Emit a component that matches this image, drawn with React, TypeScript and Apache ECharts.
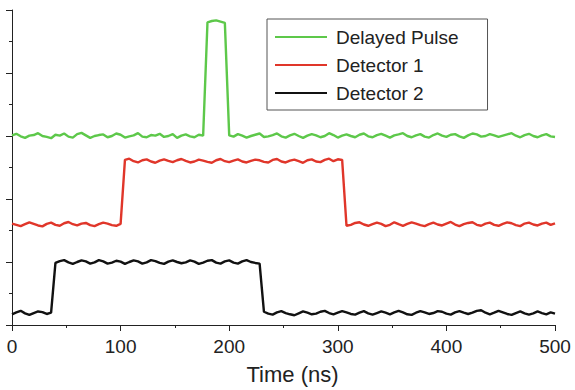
import React, { useEffect, useRef } from "react";
import * as echarts from "echarts";

const timeNs = [
  0, 4, 8, 12, 16, 20, 24, 28, 32, 36,
  40, 44, 48, 52, 56, 60, 64, 68, 72, 76,
  80, 84, 88, 92, 96, 100, 104, 108, 112, 116,
  120, 124, 128, 132, 136, 140, 144, 148, 152, 156,
  160, 164, 168, 172, 176, 180, 184, 188, 192, 196,
  200, 204, 208, 212, 216, 220, 224, 228, 232, 236,
  240, 244, 248, 252, 256, 260, 264, 268, 272, 276,
  280, 284, 288, 292, 296, 300, 304, 308, 312, 316,
  320, 324, 328, 332, 336, 340, 344, 348, 352, 356,
  360, 364, 368, 372, 376, 380, 384, 388, 392, 396,
  400, 404, 408, 412, 416, 420, 424, 428, 432, 436,
  440, 444, 448, 452, 456, 460, 464, 468, 472, 476,
  480, 484, 488, 492, 496, 500,
];

const delayedPulse = [
  60.2, 60.7, 59.9, 59.4, 60.1, 60.3, 60.9, 60.0, 59.7, 59.3,
  60.4, 60.1, 60.8, 59.8, 59.5, 60.6, 61.0, 60.2, 59.4, 60.0,
  60.3, 60.5, 59.6, 60.0, 60.8, 60.4, 59.5, 59.9, 60.2, 60.9,
  59.8, 59.6, 60.3, 60.1, 60.7, 59.7, 60.0, 60.6, 59.4, 60.1,
  60.5, 59.9, 59.6, 60.4, 60.1, 96.1, 96.5, 96.7, 96.3, 95.9,
  60.2, 59.8, 60.6, 60.1, 59.5, 60.0, 60.4, 60.8, 59.7, 59.9,
  60.3, 60.8, 59.9, 59.5, 60.2, 60.7, 60.0, 59.4, 60.1, 60.6,
  60.2, 59.6, 60.0, 60.9, 60.3, 59.5, 60.1, 60.5, 60.0, 59.6,
  60.4, 60.8, 59.9, 59.6, 60.3, 60.7, 60.1, 59.5, 60.2, 60.5,
  60.9, 60.0, 59.6, 60.2, 60.6, 59.8, 59.5, 60.3, 60.8, 60.1,
  59.7, 60.4, 60.6, 59.9, 59.4, 60.2, 60.8, 60.5, 59.8, 60.0,
  60.6, 60.2, 59.7, 60.1, 60.5, 60.9, 60.1, 59.6, 60.3, 60.7,
  60.0, 59.6, 60.2, 60.6, 59.9, 59.7,
];

const detector1 = [
  32.2, 31.8, 31.4, 32.0, 32.6, 32.1, 31.6, 31.3, 32.1, 32.5,
  31.8, 31.5, 32.3, 32.7, 32.0, 31.6, 32.2, 32.4, 31.7, 31.4,
  32.0, 32.5, 32.2, 31.7, 31.5, 32.1, 52.4, 52.8, 52.0, 51.6,
  52.3, 52.6, 51.9, 51.5, 52.2, 52.6, 52.1, 51.7, 52.3, 52.7,
  52.1, 51.6, 51.9, 52.5, 52.2, 51.8, 51.5, 52.3, 52.7, 52.0,
  51.7, 52.2, 52.6, 51.9, 51.6, 52.1, 52.5, 52.3, 51.8, 51.6,
  52.4, 52.7, 51.9, 51.6, 52.2, 52.5, 52.0, 51.5, 52.3, 52.6,
  51.9, 51.7, 52.4, 52.8, 52.0, 52.6, 52.4, 31.5, 31.8, 32.4,
  32.6, 31.9, 31.5, 32.0, 32.5, 32.1, 31.4, 31.8, 32.6, 32.0,
  31.5, 32.1, 32.6, 32.2, 31.7, 31.4, 32.0, 32.5, 31.9, 31.6,
  32.2, 32.7, 31.9, 31.4, 32.0, 32.4, 32.6, 31.8, 31.5, 32.2,
  32.5, 31.8, 31.5, 32.1, 32.6, 32.3, 31.7, 31.4, 32.2, 32.5,
  31.9, 31.6, 32.2, 32.5, 31.8, 32.3,
];

const detector2 = [
  3.4, 4.0, 4.5, 3.7, 3.2, 3.8, 4.3, 4.1, 3.5, 3.9,
  19.7, 20.3, 20.6, 19.9, 19.4, 20.0, 20.5, 20.2, 19.5, 19.9,
  20.6, 20.2, 19.5, 19.8, 20.4, 20.1, 19.4, 20.0, 20.5, 20.2,
  19.5, 19.9, 20.6, 20.3, 19.7, 19.4, 20.1, 20.5, 20.0, 19.6,
  19.9, 20.5, 20.1, 19.4, 19.8, 20.4, 20.6, 19.8, 19.5, 20.2,
  20.5, 19.8, 19.5, 20.2, 20.6, 20.0, 19.7, 19.5, 4.2, 3.6,
  3.3, 4.0, 4.4, 3.8, 3.4, 3.1, 3.7, 4.3, 3.9, 3.4,
  3.6, 4.2, 4.5, 3.8, 3.4, 3.9, 4.4, 4.0, 3.5, 3.3,
  3.9, 4.4, 3.7, 3.3, 3.8, 4.3, 3.9, 3.4, 4.0, 4.5,
  4.0, 3.4, 3.2, 3.9, 4.4, 4.0, 3.5, 3.8, 4.4, 4.2,
  3.6, 3.3, 4.0, 4.4, 3.9, 3.5, 3.9, 4.5, 4.7, 3.9,
  3.4, 3.9, 4.5, 4.0, 3.5, 3.2, 3.8, 4.3, 3.7, 3.3,
  3.7, 4.3, 3.8, 3.4, 4.0, 3.6,
];

const seriesNames = ["Delayed Pulse", "Detector 1", "Detector 2"];
const seriesColors = ["#5dc84a", "#e0362a", "#111111"];
const seriesValues = [delayedPulse, detector1, detector2];

const FONT = "'Liberation Sans', Arial, sans-serif";

export default function App() {
  const ref = useRef<HTMLDivElement>(null);
  useEffect(() => {
    document.body.style.margin = "0";
    if (!ref.current) return;
    const chart = echarts.init(ref.current, null, { renderer: "svg" });
    chart.setOption({
      animation: false,
      backgroundColor: "#ffffff",
      grid: { left: 12, right: 20, top: 10, bottom: 60, containLabel: false },
      legend: {
        orient: "vertical",
        left: 267,
        top: 19,
        padding: [8, 29, 7, 8],
        itemGap: 8,
        itemWidth: 52,
        itemHeight: 2,
        icon: "rect",
        borderColor: "#555555",
        borderWidth: 1,
        backgroundColor: "#ffffff",
        textStyle: {
          fontFamily: FONT,
          fontSize: 19,
          lineHeight: 20,
          color: "#222222",
          padding: [0, 0, 0, 4],
        },
        data: seriesNames,
      },
      xAxis: {
        type: "value",
        min: 0,
        max: 500,
        interval: 100,
        name: "Time (ns)",
        nameLocation: "middle",
        nameGap: 38,
        nameTextStyle: {
          fontFamily: FONT,
          fontSize: 22,
          color: "#222222",
          padding: [0, 0, 0, 18],
        },
        axisLine: { show: true, lineStyle: { color: "#222222", width: 1 } },
        axisTick: { show: true, inside: false, length: 6, lineStyle: { color: "#222222" } },
        minorTick: { show: true, splitNumber: 2, length: 3, lineStyle: { color: "#222222" } },
        axisLabel: { fontFamily: FONT, fontSize: 19, color: "#222222", margin: 12 },
        splitLine: { show: false },
      },
      yAxis: {
        type: "value",
        min: 0,
        max: 100,
        interval: 20,
        axisLine: { show: true, lineStyle: { color: "#222222", width: 1 } },
        axisTick: { show: true, inside: false, length: 6, lineStyle: { color: "#222222" } },
        minorTick: { show: true, splitNumber: 2, length: 3, lineStyle: { color: "#222222" } },
        axisLabel: { show: false },
        splitLine: { show: false },
      },
      series: seriesNames.map((name, k) => ({
        name,
        type: "line",
        data: timeNs.map((t, i) => [t, seriesValues[k][i]]),
        symbol: "none",
        showSymbol: false,
        color: seriesColors[k],
        lineStyle: { width: 2.4, color: seriesColors[k] },
      })),
    });
    return () => chart.dispose();
  }, []);
  return <div ref={ref} style={{ width: 575, height: 390 }} />;
}
